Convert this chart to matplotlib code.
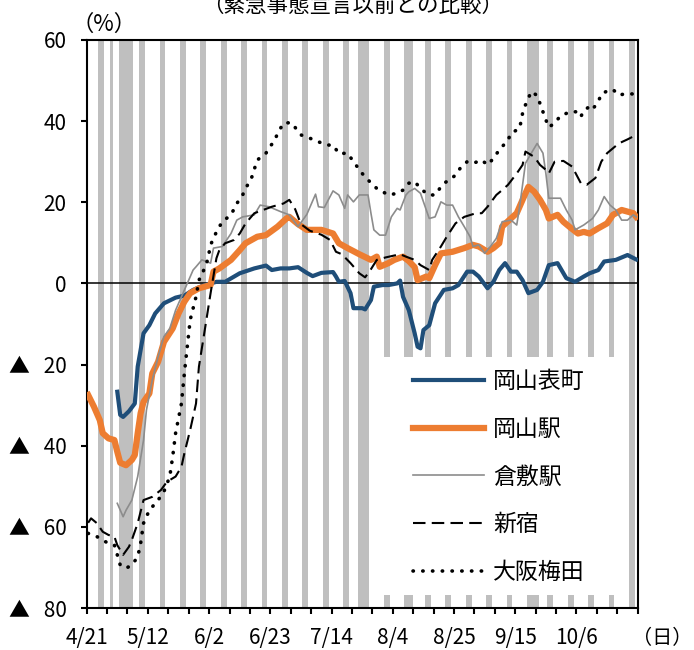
import numpy as np
import pandas as pd
import matplotlib
matplotlib.use('Agg')
import matplotlib.pyplot as plt
from matplotlib.patches import Rectangle

plt.rcParams['font.family'] = ['Noto Sans CJK JP', 'DejaVu Sans']

# 期間: 2020/4/21 - 10/27, 灰色 = 土日祝
start = pd.Timestamp('2020-04-21')
end = pd.Timestamp('2020-10-27')
holidays = ['4/29', '5/4', '5/5', '5/6', '7/23', '7/24', '8/10', '9/21', '9/22']

# 岡山表町
omote_dates = ['5/1', '5/2', '5/3', '5/5', '5/7', '5/8', '5/10', '5/12', '5/14', '5/17', '5/21', '5/24',
               '5/27', '5/31', '6/4', '6/7', '6/12', '6/17', '6/21', '6/23', '6/26', '6/29', '7/2', '7/5',
               '7/7', '7/10', '7/14', '7/15', '7/16', '7/18', '7/20', '7/21', '7/24', '7/25', '7/27', '7/28',
               '7/31', '8/2', '8/5', '8/6', '8/7', '8/9', '8/11', '8/12', '8/13', '8/14', '8/16', '8/18',
               '8/21', '8/24', '8/26', '8/29', '8/31', '9/2', '9/5', '9/7', '9/9', '9/11', '9/13', '9/15',
               '9/17', '9/19', '9/22', '9/24', '9/26', '9/29', '10/2', '10/5', '10/8', '10/10', '10/13',
               '10/15', '10/19', '10/23', '10/26']
omote_vals = [-26.7, -32.4, -32.9, -31.5, -29.6, -20.5, -12.3, -10.3, -7.4, -4.9, -3.5, -3.0,
              -1.6, -0.4, 0.4, 0.4, 2.5, 3.7, 4.4, 3.3, 3.7, 3.7, 4.0, 2.6,
              1.8, 2.6, 2.8, 1.7, 0.4, 0.6, -2.4, -6.1, -6.1, -6.4, -4.1, -0.8,
              -0.4, -0.4, 0.0, 0.7, -3.3, -6.6, -12.3, -15.6, -16.0, -11.5, -10.3, -4.9,
              -1.6, -1.2, -0.4, 2.9, 2.9, 1.7, -1.2, 0.4, 3.3, 5.0, 2.9, 2.9,
              0.8, -2.4, -1.6, 0.4, 4.5, 5.0, 1.3, 0.4, 1.7, 2.5, 3.3,
              5.4, 5.8, 7.0, 5.9]

# 岡山駅
eki_dates = ['4/21', '4/23', '4/25', '4/26', '4/28', '4/30', '5/1', '5/2', '5/4', '5/6', '5/7', '5/8',
             '5/9', '5/10', '5/12', '5/13', '5/15', '5/17', '5/20', '5/22', '5/24', '5/26', '5/29', '6/1',
             '6/2', '6/3', '6/5', '6/9', '6/12', '6/14', '6/18', '6/21', '6/25', '6/28', '6/29', '7/2',
             '7/5', '7/10', '7/14', '7/16', '7/19', '7/23', '7/27', '7/29', '7/30', '8/2', '8/4', '8/7',
             '8/9', '8/11', '8/12', '8/15', '8/16', '8/18', '8/20', '8/24', '8/28', '8/31', '9/2', '9/5',
             '9/7', '9/9', '9/10', '9/13', '9/15', '9/17', '9/19', '9/21', '9/23', '9/25', '9/26', '9/29',
             '10/1', '10/3', '10/6', '10/8', '10/10', '10/13', '10/16', '10/18', '10/21', '10/23',
             '10/25', '10/26']
eki_vals = [-27.5, -30.4, -33.7, -36.9, -38.2, -38.6, -41.5, -44.2, -44.8, -43.5, -42.3, -36.9,
            -32.0, -29.2, -27.1, -22.2, -19.3, -14.4, -11.1, -7.4, -4.5, -2.4, -1.2, -0.6,
            -0.4, 2.9, 3.7, 5.8, 8.2, 9.9, 11.5, 11.9, 14.0, 16.0, 16.4, 14.6,
            13.2, 13.2, 12.3, 9.9, 8.7, 7.2, 5.8, 6.6, 4.1, 5.0, 5.8, 6.6,
            5.5, 4.0, 0.8, 1.7, 1.3, 4.5, 7.4, 7.8, 8.7, 9.5, 9.1, 7.8,
            8.7, 9.9, 14.0, 16.0, 17.3, 20.6, 23.8, 22.6, 20.6, 18.1, 16.0, 16.9,
            15.2, 14.0, 12.3, 12.7, 12.3, 13.6, 14.8, 16.9, 18.1, 17.7,
            17.3, 16.4]

# 倉敷駅
kura_dates = ['5/1', '5/3', '5/4', '5/6', '5/8', '5/10', '5/11', '5/13', '5/15', '5/17', '5/19', '5/21',
              '5/23', '5/25', '5/27', '5/28', '5/30', '6/2', '6/3', '6/6', '6/9', '6/11', '6/13', '6/17',
              '6/19', '6/22', '6/26', '6/29', '7/2', '7/5', '7/8', '7/9', '7/11', '7/14', '7/16', '7/18',
              '7/19', '7/21', '7/23', '7/26', '7/27', '7/28', '7/30', '8/1', '8/3', '8/5', '8/6', '8/8',
              '8/9', '8/11', '8/13', '8/16', '8/18', '8/20', '8/22', '8/24', '8/26', '8/28', '8/30', '8/31',
              '9/2', '9/4', '9/6', '9/8', '9/10', '9/13', '9/15', '9/16', '9/18', '9/20', '9/22', '9/24',
              '9/25', '9/26', '9/30', '10/2', '10/4', '10/5', '10/8', '10/11', '10/13', '10/15', '10/17',
              '10/19', '10/21', '10/23', '10/25', '10/26']
kura_vals = [-54.2, -57.5, -55.9, -53.4, -47.6, -38.6, -31.2, -23.8, -18.1, -13.1, -11.1, -6.6,
             -3.3, 0.0, 3.3, 4.1, 5.8, 5.0, 8.7, 9.1, 12.3, 15.6, 16.4, 16.9,
             19.3, 18.9, 17.7, 16.9, 14.0, 17.0, 22.0, 18.9, 18.7, 22.8, 21.8, 18.5,
             21.8, 20.1, 21.8, 21.8, 17.3, 13.2, 11.9, 11.9, 16.4, 18.5, 18.1, 21.8,
             22.6, 23.4, 22.2, 16.0, 16.4, 20.1, 19.3, 19.3, 16.4, 14.0, 11.5, 9.1,
             9.5, 7.4, 9.1, 11.1, 15.2, 15.6, 14.4, 18.9, 29.6, 32.1, 34.5, 32.1,
             27.1, 21.0, 21.0, 18.1, 15.6, 13.2, 14.4, 16.0, 18.1, 21.4, 19.3,
             18.1, 15.6, 15.6, 16.9, 16.4]

# 新宿
shinjuku_dates = ['4/21', '4/22', '4/24', '4/26', '4/28', '4/30', '5/1', '5/3', '5/5', '5/6', '5/8', '5/10',
                  '5/13', '5/16', '5/18', '5/21', '5/23', '5/24', '5/26', '5/28', '5/29', '5/31', '6/2', '6/4',
                  '6/5', '6/7', '6/10', '6/12', '6/14', '6/17', '6/20', '6/23', '6/27', '6/29', '7/1', '7/3',
                  '7/6', '7/10', '7/13', '7/15', '7/17', '7/20', '7/23', '7/25', '7/27', '7/29', '8/1', '8/6',
                  '8/8', '8/11', '8/13', '8/16', '8/17', '8/20', '8/22', '8/25', '8/28', '9/1', '9/3', '9/5',
                  '9/8', '9/10', '9/12', '9/15', '9/17', '9/18', '9/21', '9/23', '9/25', '9/26', '9/28', '10/1',
                  '10/4', '10/7', '10/9', '10/12', '10/14', '10/16', '10/18', '10/20', '10/23', '10/26']
shinjuku_vals = [-59.0, -57.9, -59.1, -61.2, -62.0, -62.4, -64.5, -66.9, -64.9, -63.2, -59.1, -53.4,
                 -52.6, -50.9, -48.9, -47.6, -45.2, -41.9, -36.1, -29.6, -20.5, -11.5, -2.4, 6.2,
                 8.2, 9.9, 10.7, 12.3, 14.8, 17.3, 18.1, 18.9, 19.7, 20.6, 18.3, 14.6,
                 13.0, 12.0, 10.7, 7.8, 7.2, 5.0, 2.5, 1.5, 3.5, 5.8, 6.4, 7.2,
                 6.6, 5.8, 4.5, 3.3, 5.8, 9.1, 11.5, 14.8, 16.4, 17.3, 17.3, 18.9,
                 21.8, 23.0, 24.3, 27.1, 29.2, 32.5, 31.2, 29.2, 28.0, 27.1, 30.0, 30.2,
                 28.8, 24.7, 24.3, 26.0, 30.0, 32.1, 33.3, 34.5, 35.5, 36.6]

# 大阪梅田
umeda_dates = ['4/21', '4/24', '4/28', '4/30', '5/1', '5/2', '5/4', '5/6', '5/8', '5/9', '5/10', '5/12',
               '5/15', '5/17', '5/19', '5/20', '5/21', '5/23', '5/24', '5/25', '5/26', '5/28', '5/29', '5/30',
               '6/1', '6/2', '6/4', '6/6', '6/9', '6/11', '6/13', '6/14', '6/16', '6/18', '6/21', '6/22',
               '6/24', '6/25', '6/27', '6/29', '6/30', '7/2', '7/3', '7/6', '7/9', '7/12', '7/14', '7/16',
               '7/19', '7/21', '7/24', '7/26', '7/29', '7/31', '8/2', '8/5', '8/7', '8/9', '8/11', '8/13',
               '8/15', '8/16', '8/18', '8/20', '8/21', '8/23', '8/25', '8/27', '8/29', '8/31', '9/3', '9/5',
               '9/7', '9/9', '9/12', '9/13', '9/16', '9/17', '9/18', '9/20', '9/22', '9/24', '9/25', '9/26',
               '9/28', '9/30', '10/2', '10/3', '10/6', '10/7', '10/8', '10/10', '10/11', '10/13', '10/14',
               '10/16', '10/18', '10/20', '10/22', '10/26']
umeda_vals = [-61.6, -62.4, -64.1, -64.5, -66.9, -69.4, -70.2, -69.4, -67.4, -64.1, -59.1, -55.9,
              -53.4, -51.3, -47.6, -42.7, -36.9, -29.6, -22.2, -15.6, -9.0, -3.3, 0.8, 2.1,
              5.8, 9.5, 12.7, 15.2, 16.9, 19.7, 21.8, 23.4, 25.9, 30.4, 32.1, 33.3,
              35.3, 37.0, 39.5, 39.6, 39.5, 37.4, 36.6, 35.8, 34.9, 34.1, 34.1, 32.0,
              32.1, 30.0, 27.1, 25.5, 23.4, 22.6, 21.8, 22.2, 23.0, 24.7, 25.1, 23.4,
              22.2, 21.8, 21.8, 23.8, 24.7, 25.5, 26.7, 28.8, 30.0, 29.6, 30.4, 29.2,
              30.8, 32.9, 35.3, 37.0, 38.2, 41.9, 44.0, 47.3, 46.3, 42.3, 40.3, 38.5,
              39.5, 41.3, 41.9, 42.3, 42.3, 41.1, 42.6, 43.6, 42.9, 44.8, 46.7,
              47.4, 47.8, 46.4, 46.7, 46.7]

tick_labels = ['4/21', '5/12', '6/2', '6/23', '7/14', '8/4', '8/25', '9/15', '10/6']


def day_pos(dates):
    d = pd.to_datetime(['2020/' + s for s in dates], format='%Y/%m/%d')
    return (d - start).days.values


fig = plt.figure(figsize=(6.94, 6.5), dpi=100)
ax = fig.add_axes([0.1249, 0.0646, 0.7940, 0.8739])

# 土日祝の網掛け
hol = set(day_pos(holidays))
for k, day in enumerate(pd.date_range(start, end - pd.Timedelta(days=1))):
    if day.weekday() >= 5 or k in hol:
        ax.axvspan(k, k + 1, color='#bfbfbf', lw=0, zorder=0)

ax.axhline(0, color='black', lw=1.1, zorder=2)

series = [
    ('岡山表町', omote_dates, omote_vals, dict(color='#1f4e79', lw=3.0)),
    ('岡山駅', eki_dates, eki_vals, dict(color='#ed7d31', lw=4.5)),
    ('倉敷駅', kura_dates, kura_vals, dict(color='#8c8c8c', lw=1.2)),
    ('新宿', shinjuku_dates, shinjuku_vals, dict(color='black', lw=1.5, dashes=(6, 3))),
    ('大阪梅田', umeda_dates, umeda_vals, dict(color='black', lw=2.6, dashes=(0.1, 2.6),
                                           dash_capstyle='round')),
]
handles = []
for i, (name, dts, vals, style) in enumerate(series):
    h, = ax.plot(day_pos(dts) + 0.5, vals, label=name, zorder=3 + i,
                 solid_joinstyle='round', **style)
    handles.append(h)

# 凡例の白い背景
ax.add_patch(Rectangle((0.523, 0.0229), 0.454, 0.419, transform=ax.transAxes,
                       facecolor='white', edgecolor='none', zorder=1))
ax.legend(handles=handles, loc='upper left', bbox_to_anchor=(0.592, 0.419), frameon=False,
          fontsize=16.5, handlelength=3.1, handletextpad=0.4, labelspacing=1.08,
          borderaxespad=0, borderpad=0)

ax.set_xlim(0, 189)
ax.set_ylim(-80, 60)
yt = list(range(-80, 61, 20))
ax.set_yticks(yt)
ax.set_yticklabels(['▲   %d' % abs(v) if v < 0 else str(v) for v in yt], fontsize=15)
xt = list(range(0, 190, 7))
ax.set_xticks(xt)
ax.set_xticklabels([tick_labels[i // 3] if i % 3 == 0 and i // 3 < len(tick_labels) else ''
                    for i in range(len(xt))], fontsize=15)
ax.tick_params(axis='both', direction='out', length=4, width=1.5, color='black')
ax.tick_params(axis='y', pad=10.5)
ax.tick_params(axis='x', pad=10)
for sp in ax.spines.values():
    sp.set_linewidth(1.5)

fig.text(353 / 694, 1 - 6 / 650, '（緊急事態宣言以前との比較）', ha='center', va='center', fontsize=15.5)
fig.text(104 / 694, 1 - 24 / 650, '（%）', ha='center', va='center', fontsize=16)
fig.text(662 / 694, 1 - 639 / 650, '（日）', ha='center', va='center', fontsize=14.5)

fig.savefig('out.png', dpi=100)
